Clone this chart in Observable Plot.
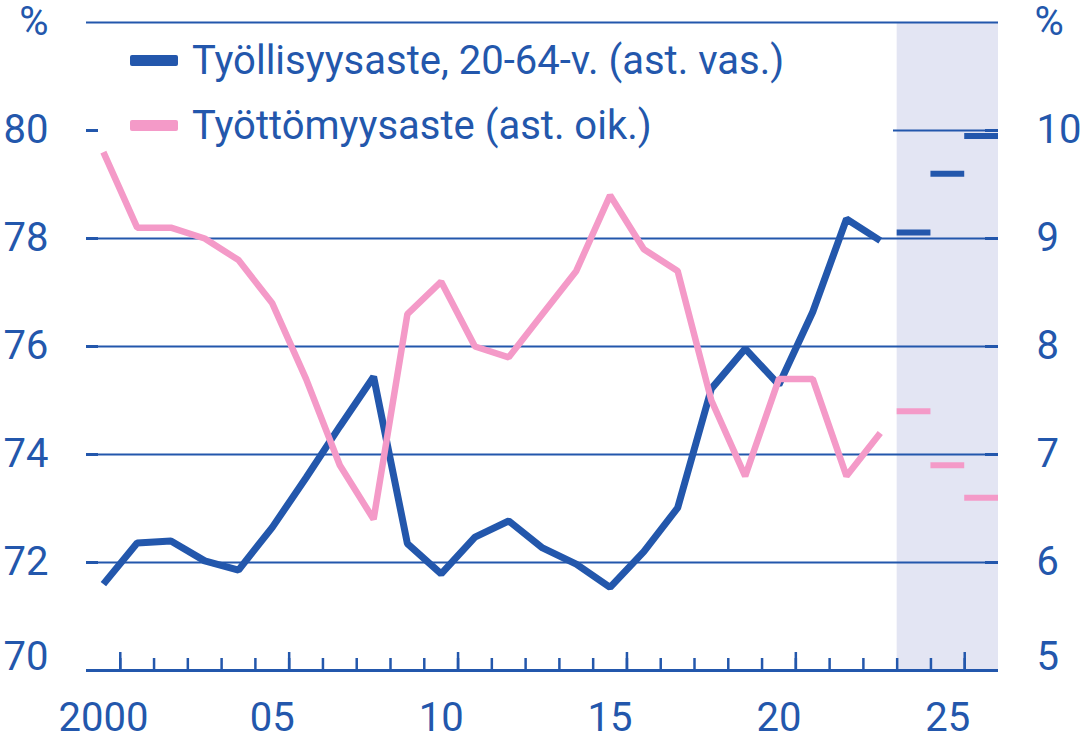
<!DOCTYPE html>
<html><head><meta charset="utf-8">
<script src="https://cdn.jsdelivr.net/npm/d3@7"></script>
<script src="https://cdn.jsdelivr.net/npm/@observablehq/plot@0.6"></script>
<style>
body{margin:0;background:#fff;font-family:Roboto,sans-serif;}
#wrap{position:relative;width:1084px;height:735px;overflow:hidden;}
#legend{position:absolute;left:98px;top:34px;width:795px;height:110px;background:#fff;}
.item{position:absolute;left:32px;height:50px;display:flex;align-items:center;font-size:40px;color:#2357ac;white-space:nowrap;}
.sw{width:48px;height:11px;border-radius:2px;margin-right:14px;}
</style></head><body>
<div id="wrap"><div id="chart"></div>
<div id="legend">
  <div class="item" style="top:1px"><span class="sw" style="background:#2357ac"></span><span>Työllisyysaste, 20-64-v. (ast. vas.)</span></div>
  <div class="item" style="top:66px"><span class="sw" style="background:#f49ac8"></span><span>Työttömyysaste (ast. oik.)</span></div>
</div></div>
<script>
// Data
const years = [2000,2001,2002,2003,2004,2005,2006,2007,2008,2009,2010,2011,2012,2013,2014,2015,2016,2017,2018,2019,2020,2021,2022,2023];
const employmentRate = [71.6,72.36,72.4,72.03,71.86,72.65,73.57,74.52,75.44,72.35,71.79,72.47,72.77,72.27,71.97,71.54,72.2,73.01,75.22,75.96,75.29,76.64,78.36,77.96];
const unemploymentRate = [9.8,9.1,9.1,9.0,8.8,8.4,7.7,6.9,6.4,8.3,8.6,8.0,7.9,8.3,8.7,9.4,8.9,8.7,7.5,6.8,7.7,7.7,6.8,7.2];
const forecastYears = [2024,2025,2026];
const employmentForecast = [78.11,79.2,79.9];
const unemploymentForecast = [7.4,6.9,6.6];
const leftTicks = [70,72,74,76,78,80];
const rightTicks = [5,6,7,8,9,10];
const xLabelYears = [2000,2005,2010,2015,2020,2025];
const xLabels = ["2000","05","10","15","20","25"];
const tickYears = [2000,2001,2002,2003,2004,2005,2006,2007,2008,2009,2010,2011,2012,2013,2014,2015,2016,2017,2018,2019,2020,2021,2022,2023,2024,2025];
const majorTickYears = [2000,2005,2010,2015,2020,2025];

const blue = "#2357ac", pink = "#f49ac8", shade = "#e3e5f3";
const leftMin = 70, leftMax = 82, rightMin = 5, rightMax = 11;
const ratio = (leftMax-leftMin)/(rightMax-rightMin);
const toLeft = r => leftMin + (r - rightMin) * ratio;
const toRight = l => rightMin + (l - leftMin) / ratio;

const data = years.map((y,i)=>({year:y, emp:employmentRate[i], unemp:unemploymentRate[i]}));
const fc = forecastYears.map((y,i)=>({year:y, emp:employmentForecast[i], unemp:unemploymentForecast[i]}));
const labelMap = new Map(xLabelYears.map((y,i)=>[y, xLabels[i]]));
const fs = 40;
const fmt = d => String(Math.round(d));

const chart = Plot.plot({
  width: 1084, height: 735,
  marginTop: 22, marginBottom: 65, marginLeft: 86, marginRight: 86,
  style: {fontFamily: "Roboto, sans-serif", fontSize: "40px", color: blue, background: "white"},
  x: {type: "linear", domain: [years[0]-0.5, forecastYears[forecastYears.length-1]+0.5], label: null},
  y: {domain: [leftMin, leftMax], label: null},
  marks: [
    Plot.rect([{x1: forecastYears[0]-0.5, x2: forecastYears[forecastYears.length-1]+0.5}], {x1:"x1", x2:"x2", fill: shade}),
    Plot.ruleY([72,74,76,78,80,82], {stroke: blue, strokeWidth: 2}),
    Plot.ruleY(leftTicks, {stroke: blue, strokeWidth: 3, insetRight: 900}),
    Plot.ruleY(rightTicks.map(toLeft), {stroke: blue, strokeWidth: 3, insetLeft: 899}),
    Plot.ruleX(tickYears.map(y=>y+0.5), {stroke: blue, strokeWidth: 2.5, insetTop: 636}),
    Plot.ruleX(majorTickYears.map(y=>y+0.5), {stroke: blue, strokeWidth: 2.5, insetTop: 630}),
    Plot.ruleY([leftMin], {stroke: blue, strokeWidth: 3}),
    Plot.line(data, {x:"year", y:"emp", stroke: blue, strokeWidth: 7, strokeLinejoin:"miter", strokeLinecap:"butt"}),
    Plot.line(data, {x:"year", y: d=>toLeft(d.unemp), stroke: pink, strokeWidth: 6.5, strokeLinejoin:"miter", strokeLinecap:"butt"}),
    Plot.ruleY(fc, {y:"emp", x1: d=>d.year-0.5, x2: d=>d.year+0.5, stroke: blue, strokeWidth: 6}),
    Plot.ruleY(fc, {y: d=>toLeft(d.unemp), x1: d=>d.year-0.5, x2: d=>d.year+0.5, stroke: pink, strokeWidth: 6}),
    // left axis
    Plot.axisY(leftTicks.slice(1), {anchor:"left", tickSize:0, tickPadding:38, fontSize: fs, tickFormat: fmt, label:null}),
    Plot.axisY([leftMin], {anchor:"left", tickSize:0, tickPadding:38, fontSize: fs, dy:-13, tickFormat: fmt, label:null}),
    Plot.axisY([leftMax], {anchor:"left", tickSize:0, tickPadding:38, fontSize: fs, tickFormat: ()=>"%", label:null}),
    // right axis
    Plot.axisY(rightTicks.slice(1).map(toLeft), {anchor:"right", tickSize:0, tickPadding:38, fontSize: fs, textAnchor:"start", tickFormat: v=>fmt(toRight(v)), label:null}),
    Plot.axisY([toLeft(rightMin)], {anchor:"right", tickSize:0, tickPadding:38, fontSize: fs, textAnchor:"start", dy:-13, tickFormat: v=>fmt(toRight(v)), label:null}),
    Plot.axisY([leftMax], {anchor:"right", tickSize:0, tickPadding:36, fontSize: fs, textAnchor:"start", tickFormat: ()=>"%", label:null}),
    // x axis
    Plot.axisX(xLabelYears, {anchor:"bottom", tickSize:0, tickPadding:48, lineAnchor:"middle", fontSize: fs, tickFormat: d=>labelMap.get(d), label:null})
  ]
});
document.getElementById("chart").appendChild(chart);
</script>
</body></html>
